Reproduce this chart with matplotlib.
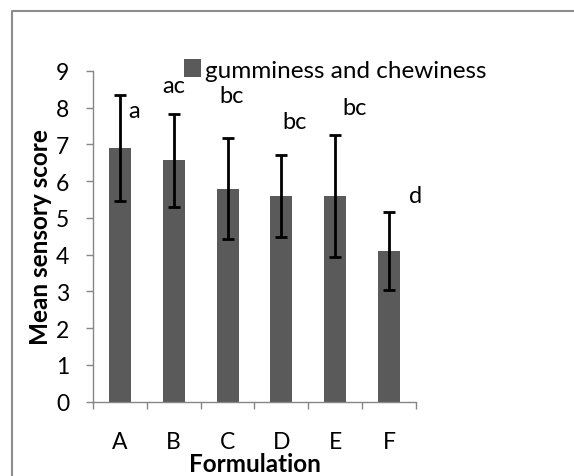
import matplotlib.pyplot as plt
from matplotlib.lines import Line2D

plt.rcParams['font.family'] = ['Lato', 'DejaVu Sans']

formulations = ['A', 'B', 'C', 'D', 'E', 'F']
means = [6.9, 6.57, 5.8, 5.6, 5.6, 4.1]
errors = [1.45, 1.27, 1.37, 1.12, 1.67, 1.07]
letters = ['a', 'ac', 'bc', 'bc', 'bc', 'd']
# where the significance letters sit (x offset from bar, y in score units)
letter_dx = [0.26, 0.0, 0.08, 0.25, 0.35, 0.5]
letter_y = [7.93, 8.6, 8.32, 7.63, 8.0, 5.62]
series_name = 'gumminess and chewiness'

fig = plt.figure(figsize=(5.74, 4.77), dpi=100)
ax = fig.add_axes([0.162, 0.1558, 0.5627, 0.6933])

x = list(range(len(formulations)))
ax.bar(x, means, width=0.41, color='#5a5a5a', label=series_name, zorder=2)
ax.errorbar(x, means, yerr=errors, fmt='none', ecolor='black',
            elinewidth=2, capsize=4.5, capthick=2, zorder=3)

for i in x:
    ax.text(i + letter_dx[i], letter_y[i], letters[i], ha='center', va='center',
            fontsize=17)

ax.set_xlim(-0.5, 5.5)
ax.set_ylim(0, 9)
ax.set_yticks(range(0, 10))
ax.set_xticks(x)
ax.set_xticklabels(formulations)
ax.set_xticks([i - 0.5 for i in range(len(formulations) + 1)], minor=True)
ax.tick_params(axis='x', which='major', length=0, pad=21, labelsize=16.5)
ax.tick_params(axis='x', which='minor', length=5, width=1, color='#868686', direction='out')
ax.tick_params(axis='y', length=5, width=1, color='#868686', pad=12, labelsize=16.5)

for s in ['top', 'right']:
    ax.spines[s].set_visible(False)
for s in ['left', 'bottom']:
    ax.spines[s].set_color('#868686')
    ax.spines[s].set_linewidth(1)

ax.set_ylabel('Mean sensory score', fontsize=17.5, fontweight='bold', labelpad=3)
ax.set_xlabel('Formulation', fontsize=17.5, fontweight='bold', labelpad=0)

ax.legend(loc='center left', bbox_to_anchor=(183.5 / 574, 1 - 71 / 477),
          bbox_transform=fig.transFigure, frameon=False, fontsize=17.5,
          handlelength=0.7, handleheight=0.7, handletextpad=0.2,
          borderpad=0, borderaxespad=0)

# chart area border (only left and top show in the crop)
fig.add_artist(Line2D([12 / 574, 12 / 574, 1], [0, 1 - 11.5 / 477, 1 - 11.5 / 477],
                      transform=fig.transFigure, color='#8c8c8c', linewidth=1.5))

fig.savefig('out.png', dpi=100)
